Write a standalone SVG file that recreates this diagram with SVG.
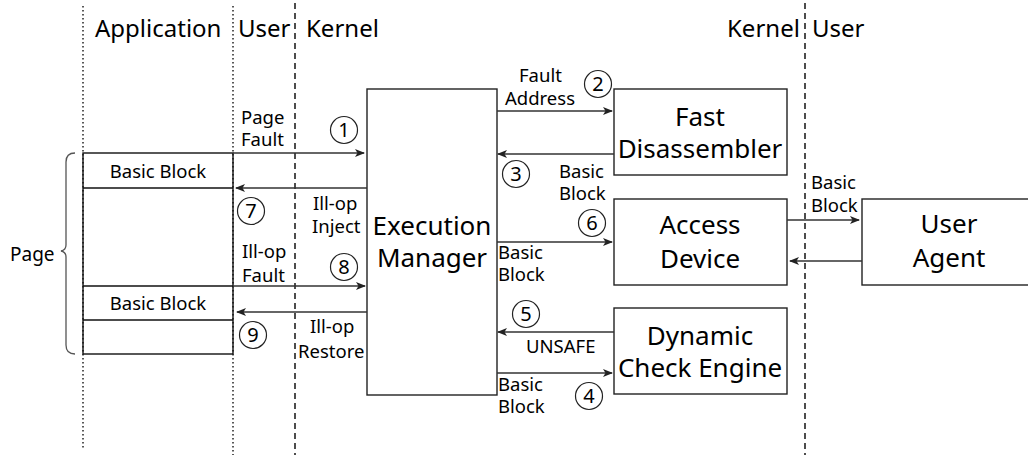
<svg xmlns="http://www.w3.org/2000/svg" width="1028" height="455" viewBox="0 0 1028 455">
<style>
text{font-family:"Noto Sans","Open Sans","DejaVu Sans",sans-serif;fill:#000}
.t{font-size:24px}
.b{font-size:26px;text-anchor:middle}
.l{font-size:18.5px}
.n{font-size:20px;text-anchor:middle}
.box{fill:#fff;stroke:#222;stroke-width:1.4}
.pg{fill:none;stroke:#111;stroke-width:1.4}
.dot{stroke:#222;stroke-width:1.5;stroke-dasharray:1.5,2.5}
.dash{stroke:#222;stroke-width:1.6;stroke-dasharray:6,4}
.ar{stroke:#333;stroke-width:1.4;fill:none;marker-end:url(#ah)}
.c{fill:none;stroke:#222;stroke-width:1.2}
</style>
<defs>
<marker id="ah" markerWidth="10" markerHeight="8" refX="9" refY="4" orient="auto" markerUnits="userSpaceOnUse">
<path d="M0,0 L10,4 L0,8 L2.5,4 z" fill="#222"/>
</marker>
</defs>
<rect width="1028" height="455" fill="#fff"/>
<g id="lanes">
<line class="dot" x1="83" y1="6" x2="83" y2="448"/>
<line class="dot" x1="233" y1="6" x2="233" y2="455"/>
<line class="dash" x1="295" y1="3" x2="295" y2="455"/>
<line class="dash" x1="805" y1="3" x2="805" y2="455"/>
<text class="t" x="95" y="37">Application</text>
<text class="t" x="238" y="37">User</text>
<text class="t" x="306" y="37">Kernel</text>
<text class="t" x="727" y="37">Kernel</text>
<text class="t" x="812" y="37">User</text>
</g>
<g id="page">
<rect class="pg" x="83" y="153" width="150" height="201" fill="#fff"/>
<line class="pg" x1="83" y1="188" x2="233" y2="188"/>
<line class="pg" x1="83" y1="286" x2="233" y2="286"/>
<line class="pg" x1="83" y1="320" x2="233" y2="320"/>
<text class="l" x="158" y="178" text-anchor="middle">Basic Block</text>
<text class="l" x="158" y="310" text-anchor="middle">Basic Block</text>
<path d="M75,153 Q66,153 66,162 L66,245 Q66,250 61,251 Q66,252 66,257 L66,345 Q66,354 75,354" fill="none" stroke="#555" stroke-width="1.3"/>
<text x="10" y="261" style="font-size:19px">Page</text>
</g>
<g id="exec-manager">
<rect class="box" x="367" y="89" width="130" height="306"/>
<text class="b" x="432" y="235">Execution</text>
<text class="b" x="432" y="267">Manager</text>
</g>
<g id="fast-disassembler">
<rect class="box" x="614" y="89" width="173" height="86"/>
<text class="b" x="700" y="126">Fast</text>
<text class="b" x="700" y="158">Disassembler</text>
</g>
<g id="access-device">
<rect class="box" x="614" y="199" width="173" height="86"/>
<text class="b" x="700" y="234">Access</text>
<text class="b" x="700" y="268">Device</text>
</g>
<g id="dynamic-check-engine">
<rect class="box" x="614" y="308" width="173" height="86"/>
<text class="b" x="700" y="345">Dynamic</text>
<text class="b" x="700" y="377">Check Engine</text>
</g>
<g id="user-agent">
<rect class="box" x="862" y="199" width="180" height="86"/>
<text class="b" x="949" y="233">User</text>
<text class="b" x="949" y="267">Agent</text>
</g>
<g id="connectors">
<line class="ar" x1="233" y1="153" x2="364" y2="153"/>
<line class="ar" x1="367" y1="188" x2="236" y2="188"/>
<line class="ar" x1="233" y1="286" x2="365" y2="286"/>
<line class="ar" x1="367" y1="312" x2="237" y2="312"/>
<line class="ar" x1="497" y1="111" x2="612" y2="111"/>
<line class="ar" x1="614" y1="154" x2="498" y2="154"/>
<line class="ar" x1="497" y1="242" x2="612" y2="242"/>
<line class="ar" x1="614" y1="332" x2="498" y2="332"/>
<line class="ar" x1="497" y1="373" x2="612" y2="373"/>
<line class="ar" x1="787" y1="220" x2="859" y2="220"/>
<line class="ar" x1="862" y1="261" x2="790" y2="261"/>
</g>
<g id="labels">
<text class="l" x="241" y="124">Page</text>
<text class="l" x="241" y="146">Fault</text>
<text class="l" x="313" y="210">Ill-op</text>
<text class="l" x="312" y="233">Inject</text>
<text class="l" x="242" y="258">Ill-op</text>
<text class="l" x="242" y="282">Fault</text>
<text class="l" x="310" y="333">Ill-op</text>
<text class="l" x="298" y="358">Restore</text>
<text class="l" x="519" y="82">Fault</text>
<text class="l" x="505" y="105">Address</text>
<text class="l" x="559" y="178">Basic</text>
<text class="l" x="559" y="200">Block</text>
<text class="l" x="498" y="259">Basic</text>
<text class="l" x="498" y="281">Block</text>
<text class="l" x="526" y="353">UNSAFE</text>
<text class="l" x="498" y="391">Basic</text>
<text class="l" x="498" y="413">Block</text>
<text class="l" x="811" y="189">Basic</text>
<text class="l" x="811" y="212">Block</text>
</g>
<g id="steps">
<circle class="c" cx="344" cy="130" r="13.5"/><text class="n" x="344" y="137">1</text>
<circle class="c" cx="598" cy="84" r="13.5"/><text class="n" x="598" y="91">2</text>
<circle class="c" cx="516" cy="174" r="13.5"/><text class="n" x="516" y="181">3</text>
<circle class="c" cx="589" cy="396" r="13.5"/><text class="n" x="589" y="403">4</text>
<circle class="c" cx="526" cy="314" r="13.5"/><text class="n" x="526" y="321">5</text>
<circle class="c" cx="592" cy="223" r="13.5"/><text class="n" x="592" y="230">6</text>
<circle class="c" cx="251" cy="211" r="13.5"/><text class="n" x="251" y="218">7</text>
<circle class="c" cx="344" cy="267" r="13.5"/><text class="n" x="344" y="274">8</text>
<circle class="c" cx="253" cy="335" r="13.5"/><text class="n" x="253" y="342">9</text>
</g>
</svg>
